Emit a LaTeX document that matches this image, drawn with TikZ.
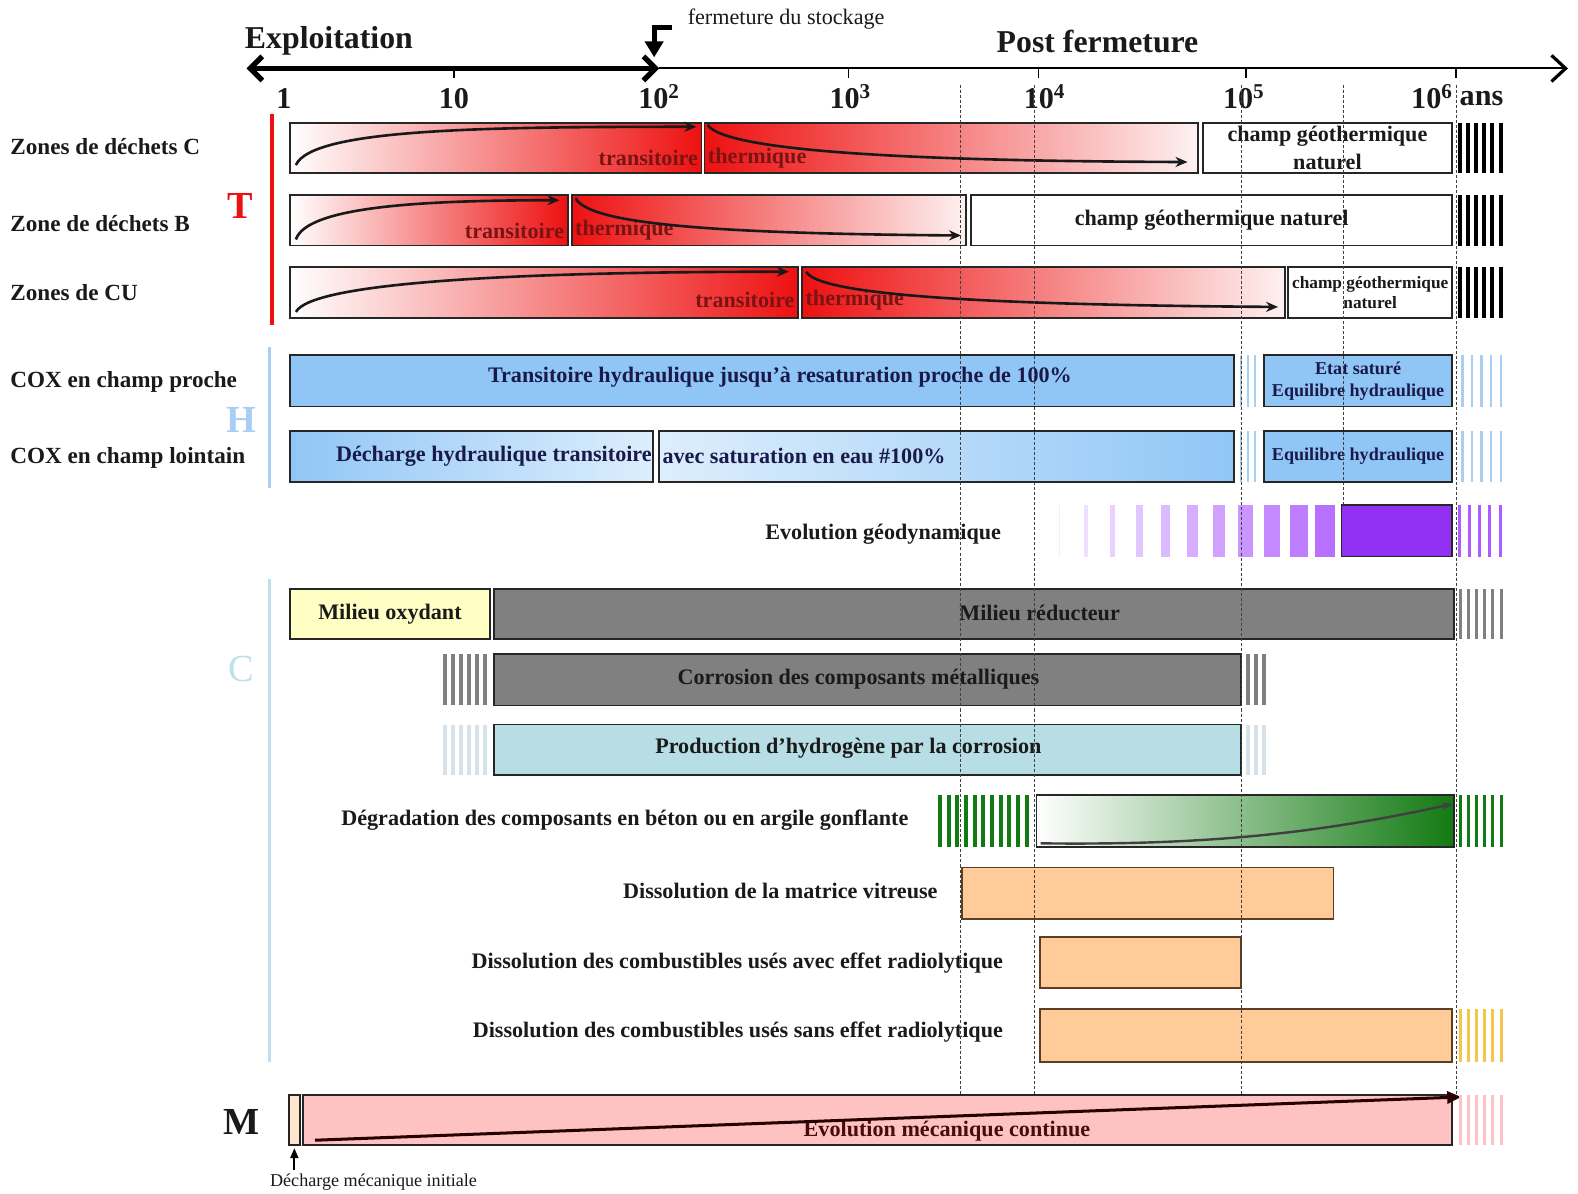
\documentclass[tikz,border=0pt]{standalone}
\usepackage{fontspec}
\setmainfont{Liberation Serif}
\usetikzlibrary{arrows.meta}
\definecolor{tred}{HTML}{EE1111}
\definecolor{tredtxt}{HTML}{7A1414}
\definecolor{hblue}{HTML}{90C6F6}
\definecolor{hbluel}{HTML}{DDEEFC}
\definecolor{htxt}{HTML}{1A1A4A}
\definecolor{hline}{HTML}{A8CFF2}
\definecolor{cline}{HTML}{BFE0EA}
\definecolor{geo}{HTML}{9933FF}
\definecolor{oxy}{HTML}{FFFFC4}
\definecolor{redu}{HTML}{808080}
\definecolor{hyd}{HTML}{B6DEE4}
\definecolor{hydl}{HTML}{D6E2EA}
\definecolor{betg}{HTML}{127A12}
\definecolor{peach}{HTML}{FFCC99}
\definecolor{peachd}{HTML}{5A3F25}
\definecolor{mpink}{HTML}{FFC2C2}
\definecolor{yel}{HTML}{F4C64A}
\definecolor{txt}{HTML}{1A1A1A}
\newcommand\tlbox[7][]{\node[bx,#1,minimum width={(#5-#3)*0.5pt},minimum height={(#6-#4)*0.5pt}] (#2) at ({(#3+#5)/2},{(#4+#6)/2}) {#7};}
\newcommand\tlstripes[7]{\foreach \k in {1,...,#4}{\fill[#7] ({#1+(\k-1)*(#5+#6)},#2) rectangle ({#1+(\k-1)*(#5+#6)+#5},#3);}}
\begin{document}
\begin{tikzpicture}[x=0.5pt,y=-0.5pt,
 bx/.style={draw=black!85,line width=0.9pt,inner sep=0pt,align=center,text=txt,font=\bfseries\fontsize{11}{13.5}\selectfont},
 lab/.style={anchor=west,inner sep=0pt,text=txt,font=\bfseries\fontsize{11.5}{14}\selectfont},
 rlab/.style={anchor=east,inner sep=0pt,text=txt,font=\bfseries\fontsize{11}{13}\selectfont},
 intxt/.style={inner sep=0pt,text=txt,font=\bfseries\fontsize{11}{13}\selectfont},
 ticklab/.style={font=\bfseries\fontsize{15}{17}\selectfont,inner sep=0pt,text=txt},
 grp/.style={font=\bfseries\fontsize{19}{21}\selectfont,inner sep=0pt},
 curv/.style={line width=1.3pt,black!90,-{Stealth[length=6pt,width=5pt]}},
 dotl/.style={dash pattern=on 1.5pt off 1pt,line width=0.45pt,black!75}]

\fill[white] (0,0) rectangle (1568,1186);
\useasboundingbox (0,0) rectangle (1568,1186);

% ---------- axis ----------
\coordinate (axL) at (245,68);
\coordinate (axM) at (655,68);
\coordinate (axR) at (1558,68);
\draw[line width=1pt,-{Straight Barb[length=7pt,width=13pt,line width=1.6pt]}] (axM) -- (axR);
\draw[line width=2.6pt,{Straight Barb[length=6pt,width=12pt]}-{Straight Barb[length=6pt,width=12pt]}] (axL) -- (axM);
\foreach \x in {451,843,1032,1238,1447} \draw[line width=0.8pt] (\x,68) -- (\x,78);

\node[ticklab] (l0) at (282,98) {1};
\node[ticklab] (l1) at (451,98) {10};
\node[ticklab] (l2) at (655,96) {10\textsuperscript{2}};
\node[ticklab] (l3) at (845,96) {10\textsuperscript{3}};
\node[ticklab] (l4) at (1038,96) {10\textsuperscript{4}};
\node[ticklab] (l5) at (1236,96) {10\textsuperscript{5}};
\node[ticklab] (l6) at (1423,96) {10\textsuperscript{6}};
\node[ticklab,anchor=west] (lans) at (1450,98) {ans};

\node[font=\bfseries\fontsize{15.8}{18}\selectfont,anchor=west,inner sep=0pt,text=txt] (expl) at (243,41) {Exploitation};
\node[font=\bfseries\fontsize{15.8}{18}\selectfont,anchor=west,inner sep=0pt,text=txt] (post) at (990,41) {Post fermeture};
\node[font=\fontsize{11}{13}\selectfont,anchor=west,inner sep=0pt,text=txt] (ferm) at (683,19) {fermeture du stockage};
\coordinate (fa) at (668,27);
\coordinate (fb) at (650,27);
\coordinate (fc) at (650,57);
\draw[line width=2.6pt,line join=miter,-{Triangle[length=8pt,width=9pt]}] (fa) -- (fb) -- (fc);

% ---------- left labels ----------
\node[lab] (zC) at (10,146) {Zones de déchets C};
\node[lab] (zB) at (10,222) {Zone de déchets B};
\node[lab] (zCU) at (10,291) {Zones de CU};
\node[lab] (coxp) at (10,380) {COX en champ proche};
\node[lab] (coxl) at (10,455) {COX en champ lointain};

\draw[tred,line width=2pt] (270,113) -- (270,323);
\draw[hline,line width=1.5pt] (268,345) -- (268,485);
\draw[cline,line width=1.5pt] (268,575) -- (268,1055);
\node[grp,text=tred] (gT) at (239,205) {T};
\node[grp,text=hline] (gH) at (240,417) {H};
\node[grp,text=cline,font=\fontsize{19}{21}\selectfont] (gC) at (240,665) {C};
\node[grp,text=txt] (gM) at (240,1115) {M};

% ---------- T rows ----------
\tlbox[left color=white,middle color=tred!25,right color=tred]{T1a}{288}{122}{697}{172}{}
\tlbox[left color=tred,middle color=tred!30,right color=tred!6]{T1b}{700}{122}{1190}{172}{}
\tlbox[fill=white]{T1c}{1195}{122}{1443}{172}{champ géothermique\\naturel}
\tlstripes{1449}{122}{172}{6}{4}{4}{black}
\node[intxt,text=tredtxt,anchor=east] (T1at) at ([xshift=-2pt,yshift=-5pt]T1a.east) {transitoire};
\node[intxt,text=tredtxt,anchor=west] (T1bt) at ([xshift=2pt,yshift=-5pt]T1b.west) {thermique};
\coordinate (T1a0) at (294,164); \coordinate (T1a1) at (692,126);
\coordinate (T1b0) at (703,124); \coordinate (T1b1) at (1180,161);
\draw[curv] (T1a0) .. controls (310,128) and (480,126) .. (T1a1);
\draw[curv] (T1b0) .. controls (720,150) and (900,160) .. (T1b1);

\tlbox[left color=white,middle color=tred!25,right color=tred]{T2a}{288}{194}{564}{244}{}
\tlbox[left color=tred,middle color=tred!30,right color=tred!6]{T2b}{568}{194}{960}{244}{}
\tlbox[fill=white]{T2c}{965}{194}{1443}{244}{champ géothermique naturel}
\tlstripes{1449}{194}{244}{6}{4}{4}{black}
\node[intxt,text=tredtxt,anchor=east] (T2at) at ([xshift=-2pt,yshift=-5pt]T2a.east) {transitoire};
\node[intxt,text=tredtxt,anchor=west] (T2bt) at ([xshift=2pt,yshift=-5pt]T2b.west) {thermique};
\coordinate (T2a0) at (294,238); \coordinate (T2a1) at (556,199);
\coordinate (T2b0) at (572,197); \coordinate (T2b1) at (955,234);
\draw[curv] (T2a0) .. controls (305,205) and (420,199) .. (T2a1);
\draw[curv] (T2b0) .. controls (585,222) and (700,232) .. (T2b1);

\tlbox[left color=white,middle color=tred!25,right color=tred]{T3a}{288}{265}{793}{316}{}
\tlbox[left color=tred,middle color=tred!30,right color=tred!6]{T3b}{797}{265}{1277}{316}{}
\tlbox[fill=white,font=\bfseries\fontsize{8.6}{10}\selectfont]{T3c}{1280}{265}{1443}{316}{champ géothermique\\naturel}
\tlstripes{1449}{265}{316}{6}{4}{4}{black}
\node[intxt,text=tredtxt,anchor=east] (T3at) at ([xshift=-2pt,yshift=-4pt]T3a.east) {transitoire};
\node[intxt,text=tredtxt,anchor=west] (T3bt) at ([xshift=2pt,yshift=-4pt]T3b.west) {thermique};
\coordinate (T3a0) at (294,310); \coordinate (T3a1) at (784,270);
\coordinate (T3b0) at (801,270); \coordinate (T3b1) at (1270,305);
\draw[curv] (T3a0) .. controls (310,280) and (520,270) .. (T3a1);
\draw[curv] (T3b0) .. controls (815,295) and (1000,303) .. (T3b1);

% ---------- H rows ----------
\tlbox[fill=hblue]{H1a}{288}{353}{1226}{404}{}
\node[intxt,text=htxt] (H1at) at (775,375) {Transitoire hydraulique jusqu’à resaturation proche de 100\%};
\tlstripes{1232}{353}{404}{3}{2}{5}{hline}
\tlbox[fill=hblue,text=htxt,font=\bfseries\fontsize{9}{11}\selectfont]{H1b}{1256}{353}{1443}{404}{Etat saturé\\Equilibre hydraulique}
\tlstripes{1452}{353}{404}{5}{2.5}{7}{hline}

\tlbox[left color=hblue,right color=hbluel]{H2a}{288}{428}{649}{479}{}
\node[intxt,text=htxt,anchor=east] (H2at) at (648,453) {Décharge hydraulique transitoire};
\tlbox[left color=hbluel,right color=hblue]{H2b}{655}{428}{1226}{479}{}
\node[intxt,text=htxt,anchor=west] (H2bt) at (658,453) {avec saturation en eau \#100\%};
\tlstripes{1232}{428}{479}{3}{2}{5}{hline}
\tlbox[fill=hblue,text=htxt,font=\bfseries\fontsize{9}{11}\selectfont]{H2c}{1256}{428}{1443}{479}{Equilibre hydraulique}
\tlstripes{1452}{428}{479}{5}{2.5}{7}{hline}

% ---------- geodynamics ----------
\node[rlab] (geoT) at (995,531) {Evolution géodynamique};
\foreach \i [evaluate=\i as \p using int(10+6*\i), evaluate=\i as \xx using 1052+25.5*\i, evaluate=\i as \ww using 1.5+1.8*\i] in {0,...,10}
  {\fill[geo!\p] (\xx,502) rectangle ({\xx+\ww},553);}
\tlbox[fill=geo!95!black]{geoB}{1333}{502}{1443}{553}{}
\tlstripes{1449}{502}{553}{5}{3}{7}{geo!80}

% ---------- C rows ----------
\tlbox[fill=oxy]{C1a}{288}{585}{487}{635}{Milieu oxydant}
\tlbox[fill=redu]{C1b}{491}{585}{1445}{635}{}
\node[intxt] (C1bt) at (1033,609) {Milieu réducteur};
\tlstripes{1450}{585}{635}{6}{3}{5}{redu}

\tlstripes{440}{650}{701}{6}{4}{4}{redu}
\tlbox[fill=redu]{C2a}{491}{650}{1233}{701}{}
\node[intxt] (C2at) at (853,675) {Corrosion des composants métalliques};
\tlstripes{1238}{650}{701}{3}{4}{4}{redu}

\tlstripes{440}{720}{770}{6}{4}{4}{hydl}
\tlbox[fill=hyd]{C3a}{491}{720}{1233}{770}{}
\node[intxt] (C3at) at (843,744) {Production d’hydrogène par la corrosion};
\tlstripes{1238}{720}{770}{3}{4}{4}{hydl}

\node[rlab] (C4t) at (903,815) {Dégradation des composants en béton ou en argile gonflante};
\tlstripes{932}{790}{842}{11}{4}{4.6}{betg}
\tlbox[left color=white,middle color=betg!35,right color=betg]{C4a}{1030}{790}{1445}{842}{}
\coordinate (C4s) at (1034,838); \coordinate (C4e) at (1443,799);
\draw[line width=1.2pt,black!75,-{Stealth[length=5pt,width=4pt]}] (C4s) .. controls (1200,840) and (1310,828) .. (C4e);
\tlstripes{1450}{790}{842}{6}{3}{5}{betg}

\node[rlab] (C5t) at (932,885) {Dissolution de la matrice vitreuse};
\tlbox[fill=peach,draw=peachd]{C5a}{956}{862}{1325}{913}{}

\node[rlab] (C6t) at (997,957) {Dissolution des combustibles usés avec effet radiolytique};
\tlbox[fill=peach,draw=peachd]{C6a}{1033}{931}{1233}{982}{}

\node[rlab] (C7t) at (997,1026) {Dissolution des combustibles usés sans effet radiolytique};
\tlbox[fill=peach,draw=peachd]{C7a}{1033}{1003}{1443}{1055}{}
\tlstripes{1450}{1003}{1055}{6}{3}{5}{yel}

% ---------- M row ----------
\tlbox[fill=peach!50]{M0}{287}{1088}{298}{1138}{}
\tlbox[fill=mpink]{M1}{301}{1088}{1443}{1138}{}
\node[intxt,text=tredtxt!60!black] (M1t) at (941,1124) {Evolution mécanique continue};
\coordinate (Ms) at (313,1133); \coordinate (Me) at (1452,1090);
\draw[line width=1.5pt,black!85!red,-{Triangle[length=7pt,width=6pt]}] (Ms) -- (Me);
\tlstripes{1450}{1088}{1138}{6}{3}{5}{mpink}
\node[font=\fontsize{9}{11}\selectfont,inner sep=0pt,anchor=west,text=txt] (dmi) at (268,1175) {Décharge mécanique initiale};
\draw[line width=1pt,-{Triangle[length=5pt,width=4pt]}] ([yshift=2pt]M0.south |- dmi.north) -- ([yshift=-1pt]M0.south);

% ---------- dotted guides ----------
\foreach \x in {954,1028,1234,1447} \draw[dotl] (\x,84) -- (\x,1088);
\draw[dotl] (1335,84) -- (1335,502);
\end{tikzpicture}
\end{document}
